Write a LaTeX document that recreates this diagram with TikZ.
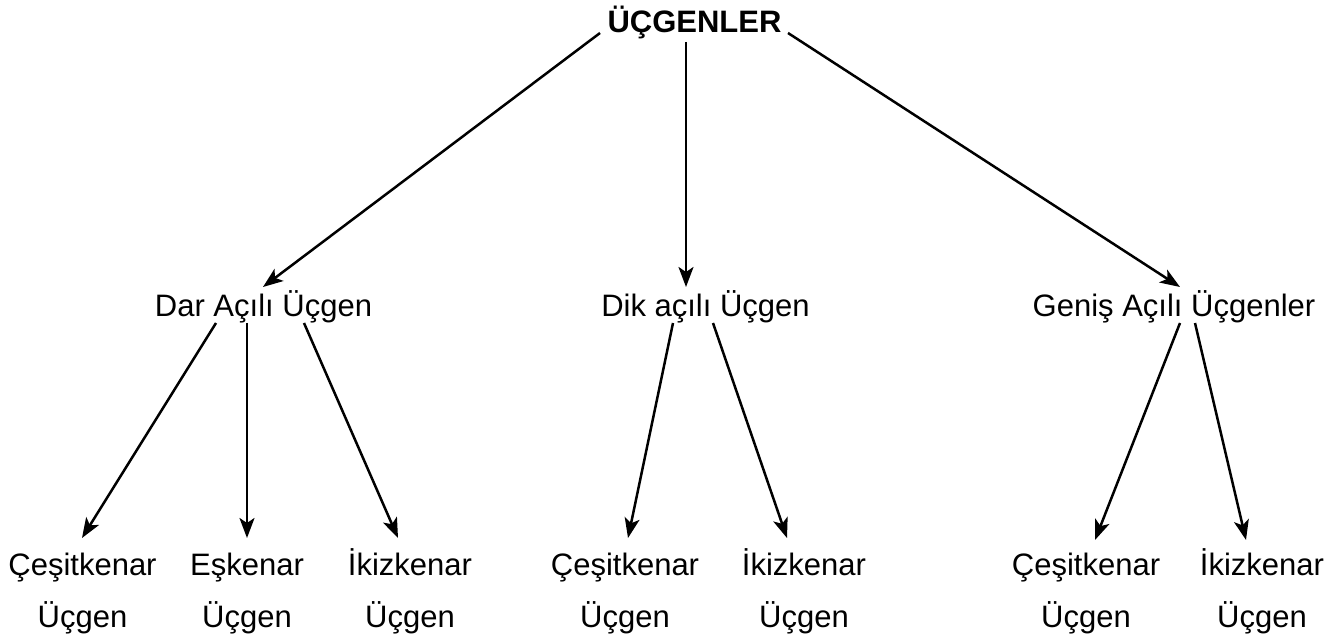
\documentclass[tikz,border=0pt]{standalone}
\usepackage{fontspec}
\setmainfont{Liberation Sans}
\usetikzlibrary{arrows.meta,calc}

\begin{document}
\begin{tikzpicture}[
    x=0.5pt, y=-0.5pt,
    txt/.style={inner sep=0pt, anchor=base, font=\fontsize{15.5}{26}\selectfont},
    leaf/.style={txt, align=center},
    arr/.style={line width=1.25pt, -{Stealth[length=10pt,width=7.5pt,inset=2.5pt]}}
    ]
  \useasboundingbox (0,0) rectangle (1339,641);

  % root
  \node[txt, font=\fontsize{15.5}{26}\selectfont\bfseries] (ucg) at (694.5,33) {ÜÇGENLER};

  % kinds by angle
  \node[txt] (dar) at (263.5,317) {Dar Açılı Üçgen};
  \node[txt] (dik) at (705.5,317) {Dik açılı Üçgen};
  \node[txt] (genis) at (1174,317) {Geniş Açılı Üçgenler};

  % kinds by sides (base = baseline of the second line)
  \node[leaf] (darC) at (82.5,627) {Çeşitkenar\\Üçgen};
  \node[leaf] (darE) at (247,627) {Eşkenar\\Üçgen};
  \node[leaf] (darI) at (410,627) {İkizkenar\\Üçgen};
  \node[leaf] (dikC) at (625,627) {Çeşitkenar\\Üçgen};
  \node[leaf] (dikI) at (804,627) {İkizkenar\\Üçgen};
  \node[leaf] (genisC) at (1086,627) {Çeşitkenar\\Üçgen};
  \node[leaf] (genisI) at (1262,627) {İkizkenar\\Üçgen};

  \draw[arr] ($(ucg.base)+(-94.5,0)$) -- ($(dar.base)+(-0.5,-30)$);
  \draw[arr] ($(ucg.base)+(-8.5,9)$) -- ($(dik.base)+(-19.5,-30)$);
  \draw[arr] ($(ucg.base)+(93.5,0)$) -- ($(genis.base)+(6,-30)$);

  \draw[arr] ($(dar.base)+(-47.5,6)$) -- ($(darC.base)+(-0.5,-89)$);
  \draw[arr] ($(dar.base)+(-16.5,6)$) -- ($(darE.base)+(0,-89)$);
  \draw[arr] ($(dar.base)+(40.5,6)$) -- ($(darI.base)+(-12,-89)$);

  \draw[arr] ($(dik.base)+(-32.5,6)$) -- ($(dikC.base)+(3,-89)$);
  \draw[arr] ($(dik.base)+(7.5,6)$) -- ($(dikI.base)+(-17,-89)$);

  \draw[arr] ($(genis.base)+(6,6)$) -- ($(genisC.base)+(9,-87)$);
  \draw[arr] ($(genis.base)+(21,6)$) -- ($(genisI.base)+(-16,-87)$);
\end{tikzpicture}
\end{document}
